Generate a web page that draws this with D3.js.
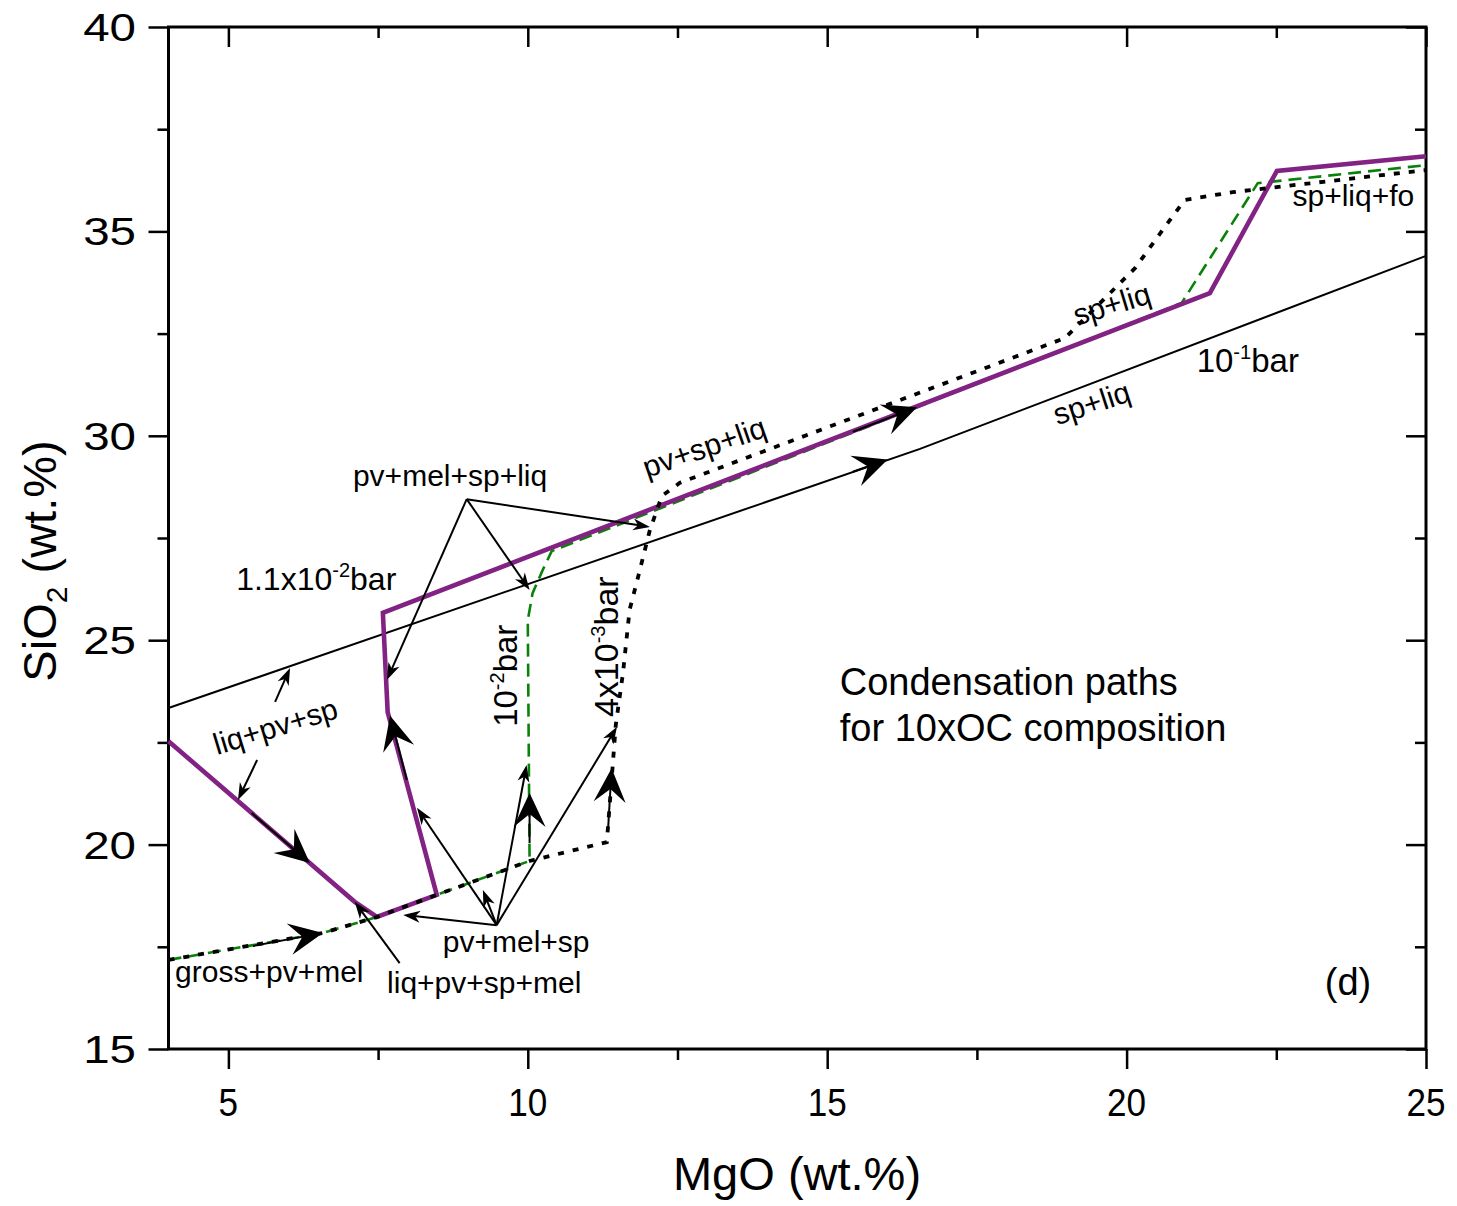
<!DOCTYPE html>
<html><head><meta charset="utf-8">
<script src="https://cdn.jsdelivr.net/npm/d3@7"></script>
<style>
body{margin:0;background:#fff}
svg{display:block}
text{font-family:"Liberation Sans",Arial,Helvetica,sans-serif;fill:#000}
</style>
</head><body>
<svg id="c" width="1457" height="1206"></svg>
<script>
// ---------- data ----------
const xMajorTicks=[5,10,15,20,25];
const xMinorTicks=[7.5,12.5,17.5,22.5];
const yMajorTicks=[15,20,25,30,35,40];
const yMinorTicks=[17.5,22.5,27.5,32.5,37.5];

// 10^-1 bar path (solid black)
const p1_MgO =[4,16.55,25];
const p1_SiO2=[23.34,29.68,34.40];
// 1.1x10^-2 bar path (purple)
const p2_MgO =[4,7.11,7.48,8.48,7.66,7.58,21.39,22.51,25];
const p2_SiO2=[22.53,18.60,18.23,18.77,23.24,25.67,33.49,36.48,36.84];
// 10^-2 bar path (green dashed)
const p3_MgO =[4,6.58,7.48,8.48,10.03,10.0,10.08,10.25,10.40,20.92,22.19,25];
const p3_SiO2=[17.18,17.84,18.23,18.77,19.60,25.49,26.15,26.72,27.18,33.25,36.18,36.62];
// 4x10^-3 bar path (black dotted)
const p4_MgO =[4,6.58,7.48,8.48,10.03,11.32,11.47,11.59,11.70,11.82,12.04,12.24,12.54,18.97,20.14,20.60,20.97,21.77,25];
const p4_SiO2=[17.18,17.84,18.23,18.77,19.60,20.06,22.93,24.20,25.74,26.42,27.70,28.53,28.85,32.39,34.10,35.03,35.77,35.96,36.50];

// direction arrows along the paths [tailMgO, tailSiO2, tipMgO, tipSiO2]
const pathArrows=[
  [5.39,20.77,6.36,19.55],
  [7.98,21.58,7.70,23.15],
  [5.41,17.52,6.58,17.84],
  [10.03,20.04,10.03,21.26],
  [11.34,20.36,11.40,21.87],
  [15.43,29.12,16.01,29.42],
  [15.43,30.10,16.50,30.70]
];
// annotation pointer arrows [fromMgO, fromSiO2, toMgO, toSiO2]
const pointerArrows=[
  [8.98,28.45,7.65,24.03],
  [8.98,28.45,10.03,26.23],
  [8.98,28.45,12.04,27.77],
  [9.48,18.03,7.92,18.28],
  [9.48,18.03,8.15,20.90],
  [9.48,18.03,9.25,18.89],
  [9.48,18.03,9.98,21.95],
  [9.48,18.03,11.49,22.88],
  [7.86,17.10,7.11,18.60],
  [5.78,23.49,6.03,24.32],
  [5.48,22.07,5.16,21.09]
];
// text labels: [main, superscript, tail], MgO, SiO2, rotation, font size
const labelText=[["1.1x10","-2","bar"],["pv+mel+sp+liq"],["liq+pv+sp"],["gross+pv+mel"],["pv+mel+sp"],["liq+pv+sp+mel"],
  ["10","-2","bar"],["4x10","-3","bar"],["pv+sp+liq"],["sp+liq"],["sp+liq"],["10","-1","bar"],["sp+liq+fo"],
  ["Condensation paths"],["for 10xOC composition"],["(d)"]];
const labelMgO =[5.13,7.08,4.81,4.11,8.58,7.65,9.82,11.50,11.99,19.17,18.84,21.17,22.77,15.21,15.21,23.31];
const labelSiO2=[26.23,28.77,22.19,16.64,17.37,16.37,22.88,23.12,28.97,32.69,30.26,31.56,35.62,23.66,22.53,16.32];
const labelRot =[0,0,-17,0,0,0,-90,-90,-19,-17,-18,0,0,0,0,0];
const labelSize=[32,30,30,30,30,30,33,34,30,30,30,33,30,38,38,38];

// ---------- drawing ----------
const svg=d3.select("#c");
const x=d3.scaleLinear().domain([4,25]).range([168.5,1426]);
const y=d3.scaleLinear().domain([15,40]).range([1049,27]);

// axes ticks
const gAx=svg.append("g");
function ax(gen,tr,vals,size){
  gAx.append("g").attr("transform",tr)
    .call(gen.tickValues(vals).tickSize(size).tickFormat(""))
    .call(g=>g.select(".domain").remove())
    .call(g=>g.selectAll("line").attr("stroke","#000").attr("stroke-width",2.5));
}
ax(d3.axisBottom(x),`translate(0,${y(15)})`,xMajorTicks,20);
ax(d3.axisBottom(x),`translate(0,${y(15)})`,xMinorTicks,11);
ax(d3.axisTop(x),`translate(0,${y(40)})`,xMajorTicks,-20);
ax(d3.axisTop(x),`translate(0,${y(40)})`,xMinorTicks,-11);
ax(d3.axisLeft(y),`translate(${x(4)},0)`,yMajorTicks,20);
ax(d3.axisLeft(y),`translate(${x(4)},0)`,yMinorTicks,11);
ax(d3.axisRight(y),`translate(${x(25)},0)`,yMajorTicks,-20);
ax(d3.axisRight(y),`translate(${x(25)},0)`,yMinorTicks,-11);

svg.append("rect").attr("x",x(4)).attr("y",y(40)).attr("width",x(25)-x(4)).attr("height",y(15)-y(40))
  .attr("fill","none").attr("stroke","#000").attr("stroke-width",3);

// tick labels
svg.append("g").selectAll("text").data(xMajorTicks).join("text")
  .attr("transform",d=>`translate(${x(d)},1116) scale(0.9,1)`)
  .attr("text-anchor","middle").attr("font-size",39).text(d=>d);
svg.append("g").selectAll("text").data(yMajorTicks).join("text")
  .attr("transform",d=>`translate(136,${y(d)+14}) scale(1.25,1)`)
  .attr("text-anchor","end").attr("font-size",38).text(d=>d);

// axis titles
svg.append("text").attr("transform","translate(797,1190)").attr("text-anchor","middle")
  .attr("font-size",47).text("MgO (wt.%)");
const yt=svg.append("text").attr("transform","translate(56,561) rotate(-90)").attr("text-anchor","middle").attr("font-size",47);
yt.append("tspan").text("SiO");
yt.append("tspan").attr("font-size",30).attr("dy",11).text("2");
yt.append("tspan").attr("dy",-11).text(" (wt.%)");

// lines
const line=d3.line().x(d=>x(d[0])).y(d=>y(d[1]));
const zip=(a,b)=>a.map((v,i)=>[v,b[i]]);
svg.append("path").attr("d",line(zip(p1_MgO,p1_SiO2))).attr("fill","none").attr("stroke","#000").attr("stroke-width",2);
svg.append("path").attr("d",line(zip(p3_MgO,p3_SiO2))).attr("fill","none").attr("stroke","#0a820a").attr("stroke-width",2.6).attr("stroke-dasharray","13,7");
svg.append("path").attr("d",line(zip(p2_MgO,p2_SiO2))).attr("fill","none").attr("stroke","#822282").attr("stroke-width",4.6).attr("stroke-linejoin","miter");
svg.append("path").attr("d",line(zip(p4_MgO,p4_SiO2))).attr("fill","none").attr("stroke","#000").attr("stroke-width",3.8).attr("stroke-dasharray","6,9");

// arrows
function arrow(g,a,L,H,N,sw){
  const tx=x(a[0]),ty=y(a[1]),hx=x(a[2]),hy=y(a[3]);
  const ang=Math.atan2(hy-ty,hx-tx);
  const ex=hx-Math.cos(ang)*N*0.9, ey=hy-Math.sin(ang)*N*0.9;
  g.append("line").attr("x1",tx).attr("y1",ty).attr("x2",ex).attr("y2",ey).attr("stroke","#000").attr("stroke-width",sw);
  g.append("path").attr("d",`M0,0L${-L},${-H}L${-N},0L${-L},${H}Z`)
    .attr("transform",`translate(${hx},${hy}) rotate(${ang*180/Math.PI})`).attr("fill","#000");
}
const gA=svg.append("g");
pathArrows.forEach(a=>arrow(gA,a,34,16,21,2));
pointerArrows.forEach(a=>arrow(gA,a,17,6,12,2));

// labels
const gL=svg.append("g");
labelText.forEach((parts,i)=>{
  const t=gL.append("text").attr("font-size",labelSize[i])
    .attr("transform",`translate(${x(labelMgO[i])},${y(labelSiO2[i])}) rotate(${labelRot[i]})`);
  t.append("tspan").text(parts[0]);
  if(parts.length>1){
    t.append("tspan").attr("font-size",20).attr("dy",-13).text(parts[1]);
    t.append("tspan").attr("dy",13).text(parts[2]);
  }
});
</script>
</body></html>
